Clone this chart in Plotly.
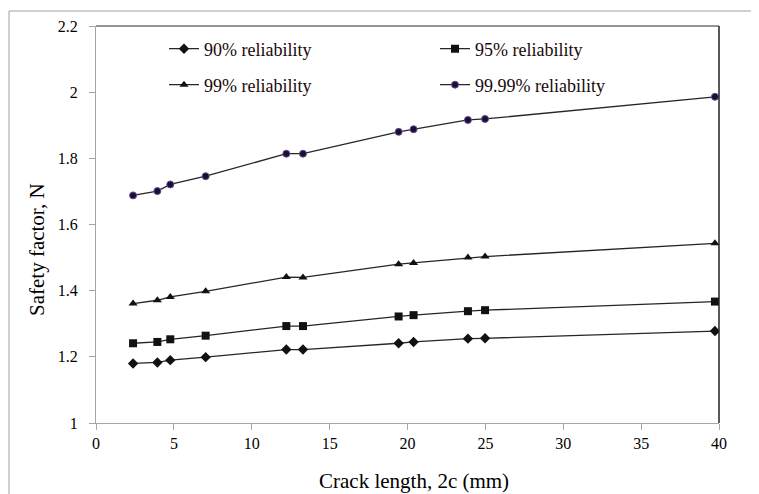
import plotly.graph_objects as go

crack_length = [2.38, 3.94, 4.77, 7.04, 12.22, 13.29, 19.43, 20.39, 23.88, 24.98, 39.74]
sf_90 = [1.180, 1.183, 1.190, 1.199, 1.222, 1.222, 1.241, 1.245, 1.255, 1.256, 1.278]
sf_95 = [1.241, 1.245, 1.253, 1.264, 1.293, 1.293, 1.322, 1.326, 1.338, 1.341, 1.367]
sf_99 = [1.361, 1.371, 1.381, 1.398, 1.441, 1.440, 1.480, 1.484, 1.500, 1.503, 1.543]
sf_9999 = [1.688, 1.701, 1.721, 1.746, 1.814, 1.814, 1.880, 1.888, 1.916, 1.919, 1.986]

series_names = ["90% reliability", "95% reliability", "99% reliability", "99.99% reliability"]
x_ticks = [0, 5, 10, 15, 20, 25, 30, 35, 40]
y_ticks = [1, 1.2, 1.4, 1.6, 1.8, 2, 2.2]
y_ticktext = ["1", "1.2", "1.4", "1.6", "1.8", "2", "2.2"]
x_title = "Crack length, 2c (mm)"
y_title = "Safety factor, N"

FONT = "Liberation Serif"
OFF = 8  # page body margin offset
W, H = 759 - OFF, 494 - OFF
ML, MR, MT, MB = 88, 40, 18, 71
PW, PH = W - ML - MR, H - MT - MB

def px_x(p):
    return (p - OFF - ML) / PW

def px_y(p):
    return (H - MB - (p - OFF)) / PH

styles = [
    dict(symbol="diamond", size=8, color="#111111", line=dict(width=0)),
    dict(symbol="square", size=8, color="#111111", line=dict(width=0)),
    dict(symbol="triangle-up", size=8, color="#111111", line=dict(width=0)),
    dict(symbol="circle", size=7, color="#1a0f2e", line=dict(width=1, color="#6a4c9c")),
]
legends = ["legend", "legend", "legend2", "legend2"]
data = [sf_90, sf_95, sf_99, sf_9999]

fig = go.Figure()
for name, ys, st, lg in zip(series_names, data, styles, legends):
    fig.add_trace(go.Scatter(
        x=crack_length, y=ys, mode="lines+markers", name=name,
        line=dict(color="#262626", width=1.3),
        marker=st, legend=lg,
    ))

leg_common = dict(
    orientation="h", xanchor="left", yanchor="middle",
    entrywidth=226, entrywidthmode="pixels",
    font=dict(family=FONT, size=18, color="#1a0a0a"),
    bgcolor="rgba(0,0,0,0)", borderwidth=0,
)

fig.update_layout(
    width=W, height=H,
    margin=dict(l=ML, r=MR, t=MT, b=MB, pad=0, autoexpand=False),
    paper_bgcolor="white", plot_bgcolor="white",
    font=dict(family=FONT, size=16, color="black"),
    legend=dict(x=px_x(164), y=px_y(49), **leg_common),
    legend2=dict(x=px_x(164), y=px_y(85), **leg_common),
    xaxis=dict(
        range=[0, 40], tickvals=x_ticks, showgrid=False, zeroline=False,
        showline=True, linecolor="#a6a6a6", linewidth=1.3, automargin=False,
        ticks="outside", ticklen=6, tickcolor="#a6a6a6", tickwidth=1.3,
        tickfont=dict(family=FONT, size=16, color="black"),
    ),
    yaxis=dict(
        range=[1, 2.2], tickvals=y_ticks, ticktext=y_ticktext, showgrid=False, zeroline=False,
        showline=True, linecolor="#a6a6a6", linewidth=1.3, automargin=False,
        ticks="outside", ticklen=6, tickcolor="#a6a6a6", tickwidth=1.3,
        ticklabelstandoff=8,
        tickfont=dict(family=FONT, size=16, color="black"),
    ),
    annotations=[
        dict(text=x_title, xref="paper", yref="paper", x=px_x(414), y=px_y(481),
             xanchor="center", yanchor="middle", showarrow=False,
             font=dict(family=FONT, size=21, color="black")),
        dict(text=y_title, xref="paper", yref="paper", x=px_x(37), y=px_y(250),
             xanchor="center", yanchor="middle", showarrow=False, textangle=-90,
             font=dict(family=FONT, size=21, color="black")),
    ],
    shapes=[
        dict(type="line", xref="paper", yref="paper", x0=0, x1=1, y0=1, y1=1,
             line=dict(color="#707070", width=1.5)),
        dict(type="line", xref="paper", yref="paper", x0=1, x1=1, y0=0, y1=1,
             line=dict(color="#222222", width=1.5)),
        dict(type="rect", xref="paper", yref="paper",
             x0=px_x(9), x1=px_x(W + 40), y0=px_y(H + 40), y1=px_y(11),
             line=dict(color="#a0a0a0", width=1), layer="below"),
    ],
)

fig.write_html("out.html")
